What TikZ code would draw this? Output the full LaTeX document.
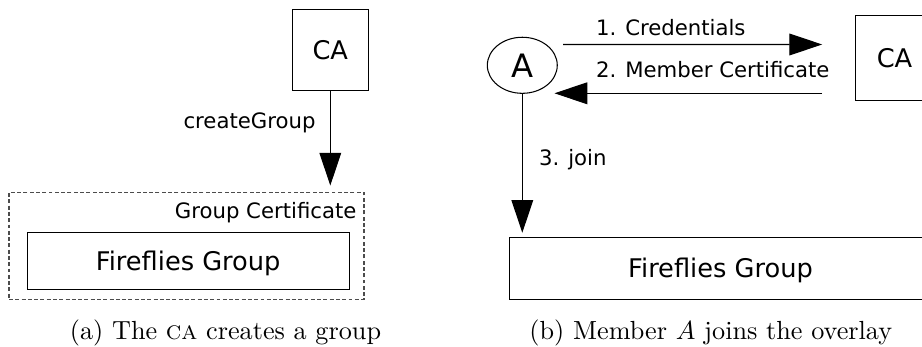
\documentclass[tikz,border=0pt]{standalone}
\usepackage{fontspec}
\usepackage{tikz}
\usetikzlibrary{positioning,arrows.meta,shapes,calc}
\newfontfamily\dejavu{DejaVu Sans}
\newcommand{\bigfont}{\dejavu\fontsize{9.8pt}{11pt}\selectfont}
\newcommand{\smallfont}{\dejavu\fontsize{8.1pt}{9.5pt}\selectfont}

\begin{document}
\begin{tikzpicture}[x=0.3817pt, y=-0.3817pt,
    box/.style={draw, inner sep=0pt, font=\bigfont},
    grp/.style={box, text depth=0pt},
    lbl/.style={inner sep=0pt, font=\smallfont},
    arr/.style={-{Triangle[length=12.5pt,width=8.3pt]}, line width=0.4pt},
    subcap/.style={inner sep=0pt, anchor=base, font=\fontsize{10pt}{12pt}\selectfont},]
    \clip (0,0) rectangle (922,347);
    % (a) the CA creates a group
    \node[box, minimum width=29pt, minimum height=31.1pt] (ca1) at (330.3,50) {CA};
    \node[draw, dash pattern=on 1.5pt off 0.9pt, black!70, line width=0.4pt, minimum width=135.5pt, minimum height=40.8pt, inner sep=0pt] (cert) at (186.5,246) {};
    \node[grp, minimum width=122.8pt, minimum height=21.8pt] (fg1) at (188.2,260.8) {Fireflies Group};
    \node[lbl, anchor=base east] (certlbl) at (357,218.3) {Group Certificate};
    \draw[arr] (ca1.south) -- ($(ca1.south |- cert.north)+(0,-6.5)$) coordinate (fg1in);
    \node[lbl, anchor=base east] (create) at (316,128.5) {createGroup};
    \node[subcap] (capa) at (225.5,339.5) {(a) The \textsc{ca} creates a group};
    % (b) member A joins the overlay
    \node[draw, ellipse, inner sep=0pt, minimum width=26.7pt, minimum height=21.4pt, font=\dejavu\fontsize{12.3pt}{14pt}\selectfont] (a) at (522.3,65.3) {A};
    \node[box, minimum width=29.8pt, minimum height=32.4pt] (ca2) at (894.5,58) {CA};
    \node[grp, minimum width=161.2pt, minimum height=23.6pt] (fg2) at (720.5,268.2) {Fireflies Group};
    \draw[arr] ($(a.east)+(5.4,-20.8)$) -- ($(ca2.west)+(-32.8,-13.5)$);
    \draw[arr] ($(ca2.west)+(-32.8,35.3)$) -- ($(a.east)+(-3.3,28)$);
    \draw[arr] (a.south) -- ($(a.south |- fg2.north)+(0,-4)$);
    \node[lbl, anchor=base west] (cred) at (595.5,36) {1. Credentials};
    \node[lbl, anchor=base west] (memcert) at (595.5,78) {2. Member Certificate};
    \node[lbl, anchor=base west] (join) at (538.5,165.7) {3. join};
    \node[subcap] (capb) at (710.8,339.5) {(b) Member $A$ joins the overlay};
\end{tikzpicture}
\end{document}
